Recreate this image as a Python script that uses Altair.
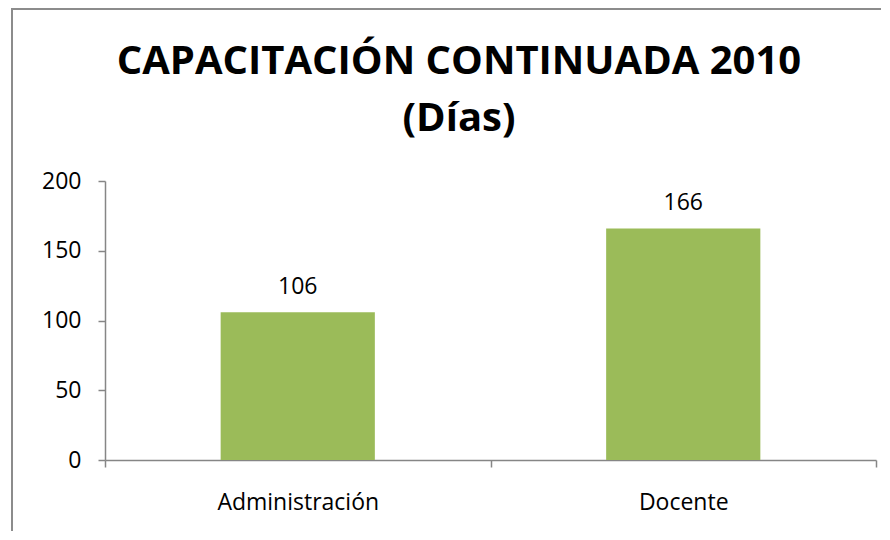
import altair as alt
import pandas as pd

# ---- data ----
categories = ["Administración", "Docente"]
values = [106, 166]
title_lines = ["CAPACITACIÓN CONTINUADA 2010", "(Días)"]
y_ticks = [0, 50, 100, 150, 200]

df = pd.DataFrame({"categoria": categories, "dias": values})
frame_df = pd.DataFrame({"k": [0]})

FONT = "Open Sans"
AXIS_GRAY = "#868686"
FRAME_GRAY = "#8c8c8c"
BAR_GREEN = "#9BBB59"

x_enc = alt.X(
    "categoria:N",
    sort=categories,
    title=None,
    scale=alt.Scale(paddingInner=0, paddingOuter=0),
    axis=alt.Axis(
        labelAngle=0,
        tickBand="extent",
        domainColor=AXIS_GRAY,
        tickColor=AXIS_GRAY,
        domainWidth=1.5,
        tickWidth=1.5,
        tickSize=7,
        labelPadding=42,
        labelBaseline="alphabetic",
        labelFont=FONT,
        labelFontSize=23,
        labelColor="black",
        grid=False,
    ),
)
y_enc = alt.Y(
    "dias:Q",
    title=None,
    scale=alt.Scale(domain=[0, 200], nice=False),
    axis=alt.Axis(
        values=y_ticks,
        domainColor=AXIS_GRAY,
        tickColor=AXIS_GRAY,
        domainWidth=1.5,
        tickWidth=1.5,
        tickSize=7,
        labelPadding=17,
        labelFont=FONT,
        labelFontSize=23,
        labelColor="black",
        grid=False,
    ),
)

base = alt.Chart(df)
bars = base.mark_bar(color=BAR_GREEN, width=alt.RelativeBandSize(0.4)).encode(
    x=x_enc, y=y_enc
)
labels = base.mark_text(
    font=FONT, fontSize=23, baseline="alphabetic", dy=-18, color="black"
).encode(x=alt.X("categoria:N", sort=categories), y="dias:Q", text="dias:Q")

# outer chart frame (left and top edges visible in the reference)
frame_left = alt.Chart(frame_df).mark_rule(color=FRAME_GRAY, strokeWidth=2).encode(
    x=alt.value(-93), y=alt.value(-172), y2=alt.value(350)
)
frame_top = alt.Chart(frame_df).mark_rule(color=FRAME_GRAY, strokeWidth=2).encode(
    y=alt.value(-172), x=alt.value(-94), x2=alt.value(776)
)

chart = (
    alt.layer(bars, labels, frame_left, frame_top)
    .properties(
        width=771,
        height=279,
        padding={"left": 2, "top": 0, "right": 0, "bottom": 0},
        background="white",
        title=alt.TitleParams(
            title_lines,
            font=FONT,
            fontSize=40,
            fontWeight="bold",
            color="black",
            lineHeight=57,
            anchor="middle",
            frame="group",
            dx=-31.5,
            baseline="alphabetic",
            offset=-163,
        ),
    )
    .configure_view(strokeWidth=0)
)

chart.save("out.html", embed_options={"renderer": "svg", "actions": False})
